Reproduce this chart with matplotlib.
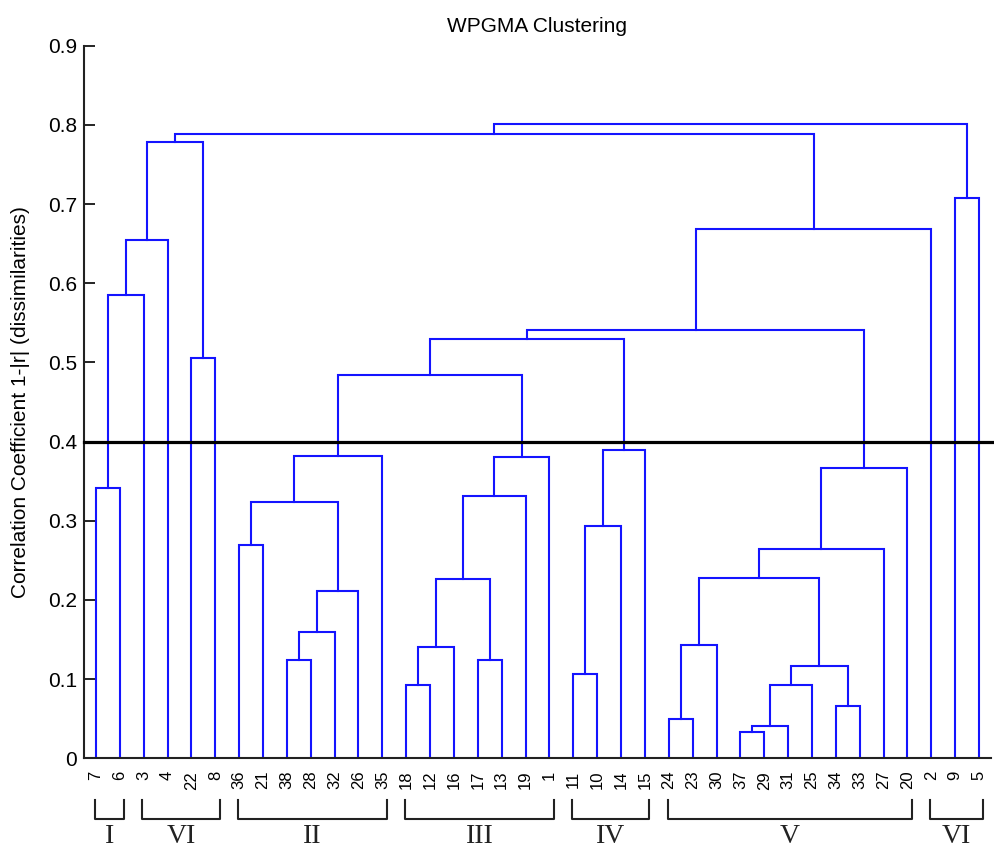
import matplotlib.pyplot as plt
from matplotlib.transforms import blended_transform_factory

plt.rcParams['font.family'] = ['Liberation Sans', 'DejaVu Sans']

# leaf order along the x axis
leaf_order = [7, 6, 3, 4, 22, 8, 36, 21, 38, 28, 32, 26, 35, 18, 12, 16, 17, 13, 19, 1,
              11, 10, 14, 15, 24, 23, 30, 37, 29, 31, 25, 34, 33, 27, 20, 2, 9, 5]

# merges: ints are leaves, 'cN' is the N-th merge below
merge_left = [7, 'c0', 'c1', 22, 'c2', 36, 38, 'c6', 'c7', 'c5', 'c9', 18, 'c11', 17, 'c12',
              'c14', 'c15', 'c10', 11, 'c18', 'c19', 'c17', 24, 'c22', 37, 'c24', 'c25', 34,
              'c26', 'c23', 'c29', 'c30', 'c21', 'c32', 9, 'c4', 'c35']
merge_right = [6, 3, 4, 8, 'c3', 21, 28, 32, 26, 'c8', 35, 12, 16, 13, 'c13',
               19, 1, 'c16', 10, 14, 15, 'c20', 23, 30, 29, 31, 25, 33,
               'c27', 'c28', 27, 20, 'c31', 2, 5, 'c33', 'c34']
merge_height = [0.342, 0.585, 0.655, 0.505, 0.778, 0.269, 0.124, 0.159, 0.211, 0.324, 0.382,
                0.092, 0.141, 0.124, 0.227, 0.331, 0.380, 0.484, 0.107, 0.294, 0.389, 0.529,
                0.050, 0.143, 0.033, 0.041, 0.093, 0.066, 0.116, 0.228, 0.265, 0.367, 0.541,
                0.669, 0.708, 0.788, 0.801]

cutoff = 0.4

# cluster groups under the leaves
group_names = ['I', 'VI', 'II', 'III', 'IV', 'V', 'VI']
group_first = [7, 3, 36, 18, 11, 24, 2]
group_last = [6, 8, 35, 1, 15, 20, 5]

y_ticks = [0, 0.1, 0.2, 0.3, 0.4, 0.5, 0.6, 0.7, 0.8, 0.9]
y_tick_labels = ['0', '0.1', '0.2', '0.3', '0.4', '0.5', '0.6', '0.7', '0.8', '0.9']

fig = plt.figure(figsize=(9.95, 8.49), dpi=100)
ax = fig.add_axes([0.0844, 0.1068, 0.9116, 0.8393])

pos = {leaf: i + 1 for i, leaf in enumerate(leaf_order)}
hgt = {leaf: 0.0 for leaf in leaf_order}
for k, (a, b, h) in enumerate(zip(merge_left, merge_right, merge_height)):
    xa, xb = pos[a], pos[b]
    ax.plot([xa, xa, xb, xb], [hgt[a], h, h, hgt[b]], color='#1414ff', lw=1.5,
            solid_joinstyle='miter')
    pos['c%d' % k] = (xa + xb) / 2
    hgt['c%d' % k] = h

# cut-off line
ax.plot([0.5, 38.75], [cutoff, cutoff], color='black', lw=2.3, clip_on=False, zorder=3)

ax.set_xlim(0.5, 38.5)
ax.set_ylim(0, 0.9)
ax.set_xticks(range(1, len(leaf_order) + 1))
ax.set_xticklabels([str(v) for v in leaf_order], rotation=90, fontsize=12)
ax.set_yticks(y_ticks)
ax.set_yticklabels(y_tick_labels, fontsize=15)
ax.tick_params(axis='x', length=0, pad=9)
ax.tick_params(axis='y', direction='in', length=8, width=1.2, pad=5)
for side in ['top', 'right']:
    ax.spines[side].set_visible(False)
for side in ['left', 'bottom']:
    ax.spines[side].set_linewidth(1.5)
    ax.spines[side].set_color('#222222')

ax.set_title('WPGMA Clustering', fontsize=15, pad=10)
ax.set_ylabel('Correlation Coefficient 1-|r| (dissimilarities)', fontsize=15, labelpad=13)

# brackets with roman numerals
tr = blended_transform_factory(ax.transData, ax.transAxes)
for name, first, last in zip(group_names, group_first, group_last):
    x0 = pos[first] - 0.05
    x1 = pos[last] + 0.18
    ax.plot([x0, x0, x1, x1], [-0.0585, -0.0852, -0.0852, -0.0585], color='#222222',
            lw=1.5, transform=tr, clip_on=False)
    ax.text((x0 + x1) / 2, -0.1195, name, transform=tr, ha='center', va='baseline',
            fontsize=20, family='Liberation Serif', color='#222222', clip_on=False)

fig.savefig('out.png', dpi=100)
